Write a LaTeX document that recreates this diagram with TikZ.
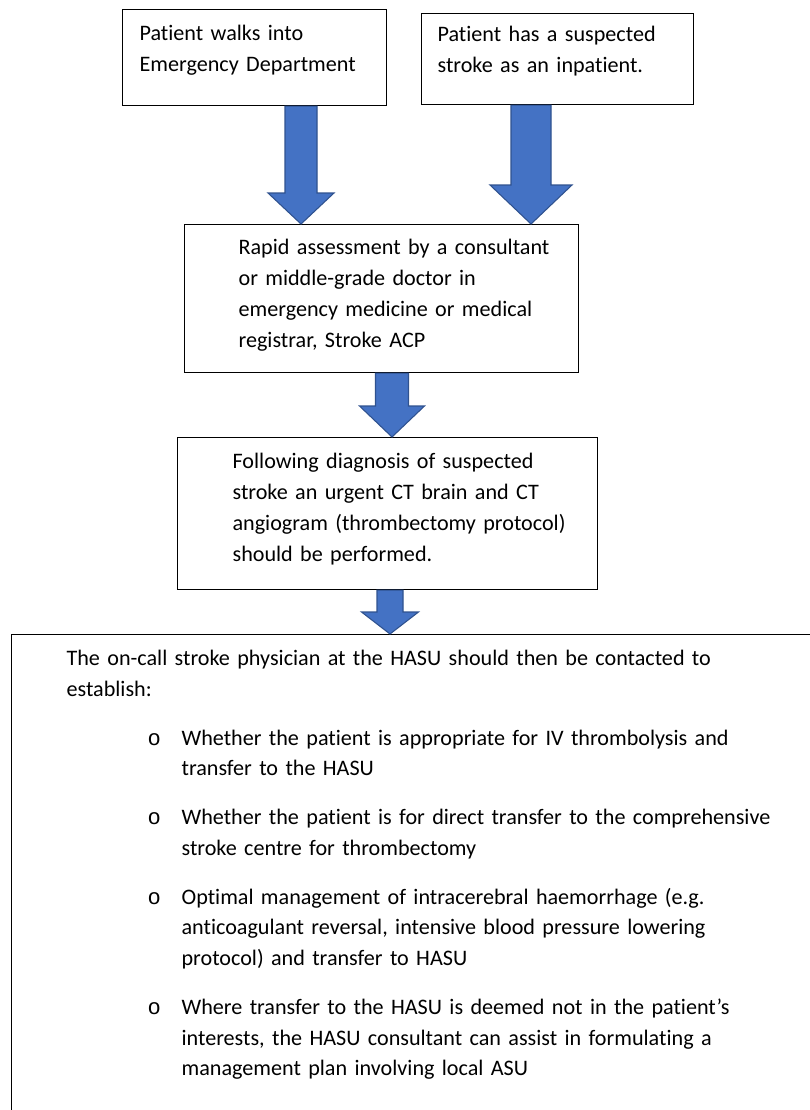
\documentclass[tikz,border=0pt]{standalone}
\usepackage{fontspec}
\setmainfont{Carlito}[Ligatures=NoCommon]
\setmonofont{Liberation Mono}
\usetikzlibrary{calc}
\definecolor{bleu}{HTML}{4472C4}
\definecolor{bleufonce}{HTML}{2F528F}

\begin{document}
\begin{tikzpicture}[x=0.75pt,y=-0.75pt,
  boite/.style={draw,line width=0.9pt,inner sep=0pt,anchor=north west,align=left,
    font=\fontsize{16.6}{23.1}\selectfont},
  fleche/.style={fill=bleu,draw=bleufonce,line width=0.8pt,line join=miter}]

\useasboundingbox (0,0) rectangle (810,1110);
\clip (0,0) rectangle (810,1110);

% Entry points
\node[boite,text width=198pt,text height=23.25pt,text depth=48.75pt] (walkin) at (122,9)
  {\leftskip=12.75pt Patient walks into\\Emergency Department\par};
\node[boite,text width=204pt,text height=21pt,text depth=47.25pt] (inpatient) at (421,13)
  {\leftskip=12pt Patient has a suspected\\stroke as an inpatient.\par};

% Assessment
\node[boite,text width=295.5pt,text height=22.5pt,text depth=88.5pt] (assess) at (184,224)
  {\leftskip=40.5pt Rapid assessment by a consultant\\or middle-grade doctor in\\
   emergency medicine or medical\\registrar, Stroke ACP\par};

% Imaging
\node[boite,text width=315pt,text height=23.25pt,text depth=90.75pt] (ct) at (177,437)
  {\leftskip=41.25pt Following diagnosis of suspected\\stroke an urgent CT brain and CT\\
   angiogram (thrombectomy protocol)\\should be performed.\par};

% HASU contact
\node[boite,text width=621.75pt,text height=23.25pt,text depth=356.25pt,
  font=\fontsize{16.6}{22.9}\selectfont] (hasu) at (11,634)
  {\hspace*{41.25pt}The on-call stroke physician at the HASU should then be contacted to\\
   \hspace*{41.25pt}establish:\\[13.9pt]
   \hspace*{102pt}\makebox[25.5pt][l]{\texttt{o}}Whether the patient is appropriate for IV thrombolysis and\\
   \hspace*{127.5pt}transfer to the HASU\\[13.9pt]
   \hspace*{102pt}\makebox[25.5pt][l]{\texttt{o}}Whether the patient is for direct transfer to the comprehensive\\
   \hspace*{127.5pt}stroke centre for thrombectomy\\[13.9pt]
   \hspace*{102pt}\makebox[25.5pt][l]{\texttt{o}}Optimal management of intracerebral haemorrhage (e.g.\\
   \hspace*{127.5pt}anticoagulant reversal, intensive blood pressure lowering\\
   \hspace*{127.5pt}protocol) and transfer to HASU\\[13.9pt]
   \hspace*{102pt}\makebox[25.5pt][l]{\texttt{o}}Where transfer to the HASU is deemed not in the patient’s\\
   \hspace*{127.5pt}interests, the HASU consultant can assist in formulating a\\
   \hspace*{127.5pt}management plan involving local ASU\par};

% Block arrows
\foreach \de/\vers/\xa/\ts/\te/\lt in {walkin/assess/301/16/33/31,
  inpatient/assess/531/20/41/39, assess/ct/392/16.5/32.5/31, ct/hasu/390/13/28.5/22}
{
\coordinate (haut) at (\de.south -| \xa,0);
\coordinate (pointe) at (\vers.north -| \xa,0);
\filldraw[fleche] ($(haut)+(-\ts,0)$) -- ($(haut)+(\ts,0)$) -- ($(pointe)+(\ts,-\lt)$)
  -- ($(pointe)+(\te,-\lt)$) -- (pointe) -- ($(pointe)+(-\te,-\lt)$)
  -- ($(pointe)+(-\ts,-\lt)$) -- cycle;
}

\end{tikzpicture}
\end{document}
